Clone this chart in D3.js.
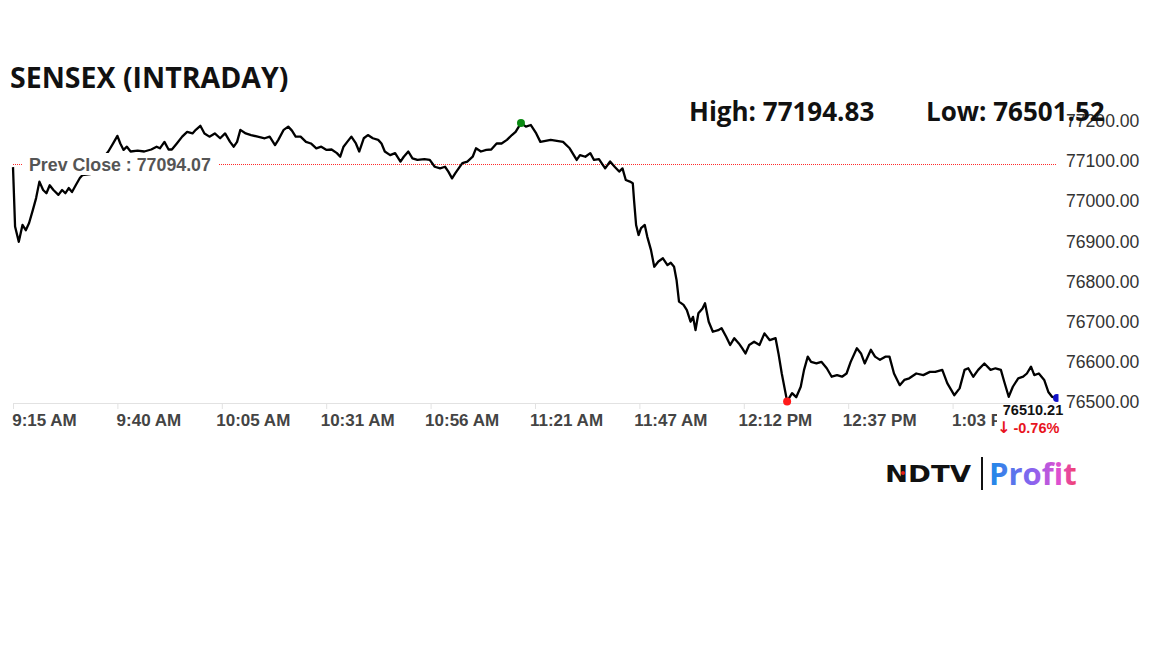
<!DOCTYPE html>
<html>
<head>
<meta charset="utf-8">
<script src="https://cdn.jsdelivr.net/npm/d3@7"></script>
<style>
  body { margin: 0; background: #fff; }
  svg { display: block; }
</style>
</head>
<body>
<svg id="chart" width="1152" height="648"></svg>
<script>
// session data: minutes after the 9:15 open, index level
const openTime = new Date(2024, 0, 1, 9, 15);
const minutes = [0, 0.5, 1.4, 2.3, 3.1, 3.9, 4.8, 5.6, 6.4, 7.3, 8.1, 8.9, 9.8, 11.0, 11.9, 12.7, 13.5, 14.3, 15.2, 16.2, 16.8,
  18.7, 20.6, 21.8, 23.1, 24.3, 25.3, 26.0, 26.8, 27.6, 28.5, 30.2, 31.8, 33.5, 34.8, 35.6, 36.7, 37.7, 38.5, 39.7, 41.0,
  42.2, 43.5, 44.3, 45.4, 46.4, 47.6, 48.9, 50.2, 51.4, 52.6, 53.5, 54.3, 55.1, 56.4, 57.7, 59.3, 61.0, 62.2, 63.5, 64.3,
  65.6, 66.7, 67.6, 68.5, 69.7, 71.0, 72.2, 73.5, 74.7, 76.0, 77.2, 78.5, 79.3, 80.1, 81.0, 82.0, 83.1, 83.9, 85.0, 86.0,
  87.2, 88.5, 89.3, 90.1, 91.4, 92.6, 93.9, 94.7, 95.8, 96.8, 98.0, 99.7, 101.0, 102.2, 103.5, 104.7, 105.5, 106.4, 107.2,
  108.0, 108.9, 110.1, 111.4, 112.2, 113.4, 114.7, 115.9, 117.2, 118.4, 119.7, 120.9, 121.8, 123.1, 124.3, 125.5, 126.8,
  127.8, 130.3, 133.3, 134.9, 136.6, 137.4, 138.7, 139.9, 140.8, 142.0, 143.5, 144.7, 145.8, 146.9, 147.7, 148.5, 149.5,
  150.2, 150.5, 151.0, 151.6, 152.2, 153.1, 153.7, 154.6, 155.4, 156.4, 157.5, 158.6, 159.4, 160.2, 160.8, 161.4, 162.5,
  163.3, 164.2, 164.8, 165.4, 166.1, 167.1, 167.7, 168.6, 169.6, 170.9, 171.7, 172.8, 173.8, 174.8, 175.9, 176.7, 177.5,
  178.4, 179.6, 180.9, 182.1, 183.4, 184.8, 185.5, 186.3, 187.6, 188.8, 189.8, 190.9, 191.7, 192.6, 193.4, 194.7, 195.9,
  197.2, 198.4, 199.7, 200.9, 202.0, 203.0, 204.5, 205.5, 206.4, 207.9, 208.9, 210.1, 211.4, 212.4, 213.5, 214.9, 216.0,
  217.2, 218.9, 220.6, 222.2, 223.5, 225.2, 226.4, 228.1, 229.4, 230.6, 231.5, 232.7, 233.9, 235.4, 236.9, 238.1, 239.4,
  240.2, 241.3, 242.3, 243.6, 244.8, 245.7, 246.7, 247.5, 248.6, 249.9, 250.9, 251.8, 253.0];
const values = [77085, 76937, 76899, 76941, 76928, 76946, 76978, 77008, 77049, 77028, 77020, 77040, 77028, 77016, 77028,
  77020, 77033, 77023, 77040, 77058, 77065,
  77068, 77083, 77108, 77124, 77145, 77163, 77144, 77128, 77136, 77124, 77126, 77124, 77129, 77136, 77132, 77148, 77129,
  77129, 77144, 77161, 77173, 77169, 77178, 77188, 77169, 77161, 77169, 77157, 77169, 77148, 77136, 77148, 77178, 77169,
  77165, 77161, 77157, 77161, 77140, 77153, 77178, 77186, 77176, 77161, 77161, 77148, 77144, 77132, 77136, 77128, 77129,
  77120, 77111, 77136, 77148, 77161, 77144, 77124, 77157, 77165, 77157, 77153, 77144, 77124, 77115, 77120, 77099, 77111,
  77124, 77107, 77103, 77105, 77103, 77086, 77082, 77086, 77074, 77057, 77070, 77082, 77095, 77099, 77111, 77132, 77124,
  77128, 77129, 77144, 77144, 77153, 77165, 77173, 77194.83, 77186, 77190, 77169,
  77148, 77153, 77148, 77132, 77103, 77115, 77111, 77120, 77103, 77105, 77082, 77099, 77086, 77074, 77082, 77053, 77049,
  77045, 77003, 76941, 76916, 76933, 76941, 76912, 76879, 76837, 76850, 76858, 76841, 76847, 76837, 76804, 76750, 76742,
  76729, 76700, 76712, 76679, 76721, 76733, 76746, 76700, 76675, 76679, 76684, 76663, 76642, 76659, 76646, 76634, 76621,
  76642, 76650, 76642, 76671, 76654, 76659, 76621, 76571, 76501.52, 76522, 76512, 76538, 76580, 76613, 76600, 76596, 76600,
  76584, 76563, 76567, 76563, 76571, 76600, 76634, 76621, 76596, 76630, 76613, 76605, 76613, 76613, 76571, 76542, 76555,
  76559, 76571, 76567, 76575, 76575, 76580, 76547, 76517, 76534, 76580, 76584, 76563, 76580, 76596, 76580, 76584, 76580,
  76551, 76513, 76538, 76559, 76563, 76571, 76588, 76567, 76571, 76555, 76525, 76513, 76510.21];

const tickMinutes = [0, 25.3, 50.6, 75.9, 101.2, 126.5, 151.8, 177.1, 202.4, 227.7];
const tickLabels = ["9:15 AM", "9:40 AM", "10:05 AM", "10:31 AM", "10:56 AM", "11:21 AM", "11:47 AM", "12:12 PM", "12:37 PM", "1:03 PM"];
const yTicks = [76500, 76600, 76700, 76800, 76900, 77000, 77100, 77200];

const prevClose = 77094.07;
const dayHigh = 77194.83;
const dayLow = 76501.52;
const lastPrice = 76510.21;
const changePct = "-0.76";

const toTime = m => new Date(openTime.getTime() + m * 60000);
const data = minutes.map((m, i) => ({ t: toTime(m), v: values[i] }));

const svg = d3.select("#chart");
const x = d3.scaleTime().domain([toTime(0), toTime(253)]).range([13, 1057]);
const y = d3.scaleLinear().domain([76500, 77200]).range([402, 121]);

svg.append("defs").append("clipPath").attr("id", "plot")
  .append("rect").attr("x", 0).attr("y", 0).attr("width", 1058.5).attr("height", 648);

// x axis
const xAxis = svg.append("g").attr("transform", "translate(0,403)")
  .call(d3.axisBottom(x)
    .tickValues(tickMinutes.map(toTime))
    .tickFormat((d, i) => tickLabels[i])
    .tickSize(6).tickSizeOuter(0));
xAxis.select(".domain").attr("stroke", "#e2e2e2");
xAxis.selectAll(".tick line").attr("stroke", "#e2e2e2");
xAxis.selectAll(".tick text")
  .attr("text-anchor", "middle").attr("x", 31).attr("y", 11)
  .attr("fill", "#444").style("font", "bold 17px 'Liberation Sans', Arial, sans-serif");

// y axis on the right
const yAxis = svg.append("g").attr("transform", "translate(1058,0)")
  .call(d3.axisRight(y).tickValues(yTicks).tickFormat(d3.format(".2f")).tickSize(0).tickPadding(8));
yAxis.select(".domain").remove();
yAxis.selectAll(".tick text")
  .attr("fill", "#333").style("font", "17.6px 'Liberation Sans', Arial, sans-serif");

// previous close reference
svg.append("line")
  .attr("x1", x(toTime(0))).attr("x2", x(toTime(253)))
  .attr("y1", Math.round(y(prevClose)) + 0.5).attr("y2", Math.round(y(prevClose)) + 0.5)
  .attr("stroke", "#ff2a2a").attr("stroke-width", 1).attr("stroke-dasharray", "1,1")
  .attr("shape-rendering", "crispEdges");

// price line
const line = d3.line().x(d => x(d.t)).y(d => y(d.v)).curve(d3.curveLinear);
const plot = svg.append("g").attr("clip-path", "url(#plot)");
plot.append("path").datum(data)
  .attr("d", line).attr("fill", "none")
  .attr("stroke", "#000").attr("stroke-width", 2.3).attr("stroke-linejoin", "round");

// high / low / last markers
const hi = data[d3.maxIndex(data, d => d.v)];
const lo = data[d3.minIndex(data, d => d.v)];
const last = data[data.length - 1];
plot.append("circle").attr("cx", x(hi.t)).attr("cy", y(hi.v)).attr("r", 4).attr("fill", "#0a8a12");
plot.append("circle").attr("cx", x(lo.t)).attr("cy", y(lo.v)).attr("r", 4).attr("fill", "#ff1a1a");
plot.append("circle").attr("cx", x(last.t)).attr("cy", y(last.v)).attr("r", 4).attr("fill", "#1212c8");

// prev close label
svg.append("rect").attr("x", 22).attr("y", 153).attr("width", 196).attr("height", 22).attr("fill", "#fff");
svg.append("text").attr("x", 29).attr("y", y(prevClose) + 7)
  .attr("fill", "#555").style("font", "bold 17.8px 'Liberation Sans', Arial, sans-serif")
  .text("Prev Close : " + d3.format(".2f")(prevClose));

// last price annotation
svg.append("rect").attr("x", 997).attr("y", 404).attr("width", 68).attr("height", 34).attr("fill", "#fff");
svg.append("text").attr("x", 1033).attr("y", 415).attr("text-anchor", "middle")
  .attr("fill", "#111").style("font", "bold 14.5px 'Liberation Sans', Arial, sans-serif")
  .text(d3.format(".2f")(lastPrice));
const chg = svg.append("text").attr("x", 997).attr("y", 433)
  .attr("fill", "#e8141e").style("font", "bold 14.5px 'Liberation Sans', Arial, sans-serif");
chg.append("tspan").style("font", "bold 16px 'DejaVu Sans', sans-serif").text("\u2193");
chg.append("tspan").attr("dx", 3).text(changePct + "%");

// headings
svg.append("text").attr("x", 10).attr("y", 88)
  .attr("fill", "#111").style("font", "bold 28.5px 'Open Sans', sans-serif")
  .text("SENSEX (INTRADAY)");
svg.append("text").attr("x", 689).attr("y", 121)
  .attr("fill", "#111").style("font", "bold 26px 'Open Sans', sans-serif")
  .text("High: " + d3.format(".2f")(dayHigh));
svg.append("text").attr("x", 926).attr("y", 121)
  .attr("fill", "#111").style("font", "bold 26px 'Open Sans', sans-serif")
  .text("Low: " + d3.format(".2f")(dayLow));

// logo
const grad = svg.select("defs").append("linearGradient").attr("id", "profitGrad")
  .attr("x1", "0%").attr("x2", "100%");
grad.append("stop").attr("offset", "0%").attr("stop-color", "#1b8be8");
grad.append("stop").attr("offset", "50%").attr("stop-color", "#8a63ef");
grad.append("stop").attr("offset", "80%").attr("stop-color", "#e04fcf");
grad.append("stop").attr("offset", "100%").attr("stop-color", "#f0406a");
svg.append("text").attr("x", 885).attr("y", 482)
  .attr("textLength", 86).attr("lengthAdjust", "spacingAndGlyphs")
  .attr("fill", "#111").style("font", "900 23px 'DejaVu Sans', sans-serif")
  .text("NDTV");
svg.append("circle").attr("cx", 903).attr("cy", 473).attr("r", 2).attr("fill", "#e0201c");
svg.append("line").attr("x1", 982).attr("x2", 982).attr("y1", 457).attr("y2", 490)
  .attr("stroke", "#111").attr("stroke-width", 2);
svg.append("text").attr("x", 989).attr("y", 485)
  .attr("fill", "url(#profitGrad)").style("font", "bold 31px 'Open Sans', sans-serif")
  .text("Profit");
</script>
</body>
</html>
